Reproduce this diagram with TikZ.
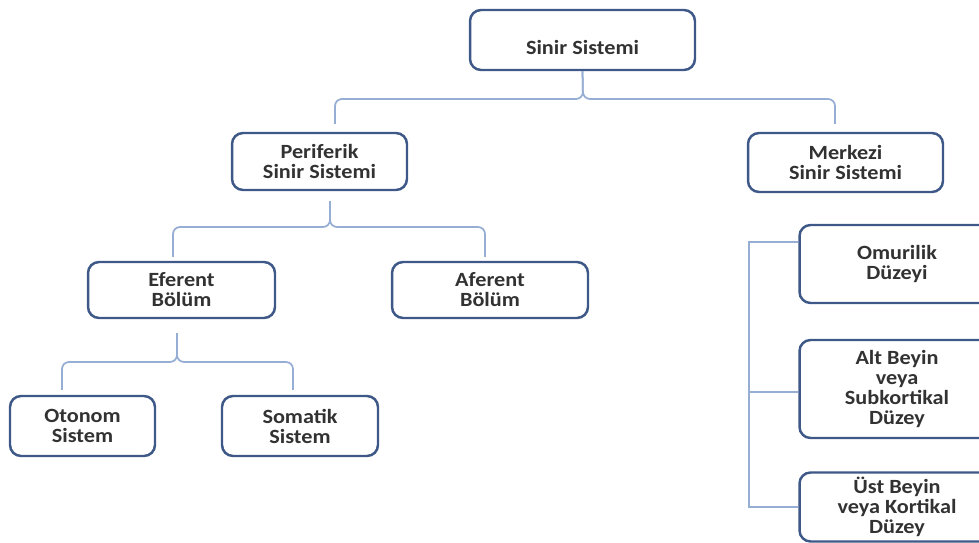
\documentclass[tikz,border=0pt]{standalone}
\usepackage{fontspec}
\setmainfont{Carlito}[FakeStretch=1.1]
\usetikzlibrary{calc}

\definecolor{boxblue}{RGB}{62,88,135}
\definecolor{linkblue}{RGB}{150,174,212}
\definecolor{textgray}{RGB}{50,50,50}

\begin{document}
\begin{tikzpicture}[x=0.02cm, y=-0.02cm,
  box/.style={draw=boxblue, line width=1.4pt, rounded corners=0.22cm, align=center,
    text=textgray, font=\fontsize{11.5}{11.4}\selectfont\bfseries, inner sep=0pt},
  link/.style={draw=linkblue, line width=1pt, rounded corners=4pt}]

\useasboundingbox (0,0) rectangle (979,543);
\clip (0,0) rectangle (979,543);

% Draw the nodes
\node[box, minimum width=4.5cm, minimum height=1.2cm, text height=0.7cm, text depth=0.1cm] (sinir) at (582.5,40) {Sinir Sistemi};
\node[box, minimum width=3.5cm, minimum height=1.14cm] (peri) at (319.5,161.5) {Periferik\\Sinir Sistemi};
\node[box, minimum width=3.9cm, minimum height=1.18cm] (merk) at (845.5,162.5) {Merkezi\\Sinir Sistemi};
\node[box, minimum width=3.74cm, minimum height=1.12cm] (efer) at (181.5,290) {Eferent\\Bölüm};
\node[box, minimum width=3.92cm, minimum height=1.12cm] (afer) at (490,290) {Aferent\\Bölüm};
\node[box, minimum width=2.9cm, minimum height=1.2cm] (oto) at (82.5,426) {Otonom\\Sistem};
\node[box, minimum width=3.12cm, minimum height=1.2cm] (soma) at (300,426) {Somatik\\Sistem};

\node[box, minimum width=3.9cm, minimum height=1.56cm] (omur) at (897,264) {Omurilik\\Düzeyi};
\node[box, minimum width=3.9cm, minimum height=1.96cm] (alt) at (897,389) {Alt Beyin\\veya\\Subkortikal\\Düzey};
\node[box, minimum width=3.9cm, minimum height=1.38cm] (ust) at (897,507) {Üst Beyin\\veya Kortikal\\Düzey};

% Draw the edges
\coordinate (b1) at (583,99);
\draw[link] (sinir.south) -- (b1) -| ($(peri.north)+(15.5,-8)$);
\draw[link] (sinir.south) -- (b1) -| ($(merk.north)+(-10.5,-8)$);

\coordinate (s2) at ($(peri.south)+(10.5,10)$);
\coordinate (b2) at (330,227);
\draw[link] (s2) -- (b2) -| ($(efer.north)+(-8.5,-4)$);
\draw[link] (s2) -- (b2) -| ($(afer.north)+(-5,-4)$);

\coordinate (s3) at ($(efer.south)+(-4.5,14)$);
\coordinate (b3) at (177,362);
\draw[link] (s3) -- (b3) -| ($(oto.north)+(-20.5,-5)$);
\draw[link] (s3) -- (b3) -| ($(soma.north)+(-7,-5)$);

\draw[link, sharp corners] ($(omur.north west)+(0,18)$) -- ++(-49,0) |- (ust.west);
\draw[link, sharp corners] ($(alt.west)+(0,3)$) -- ++(-49,0);

\end{tikzpicture}
\end{document}
